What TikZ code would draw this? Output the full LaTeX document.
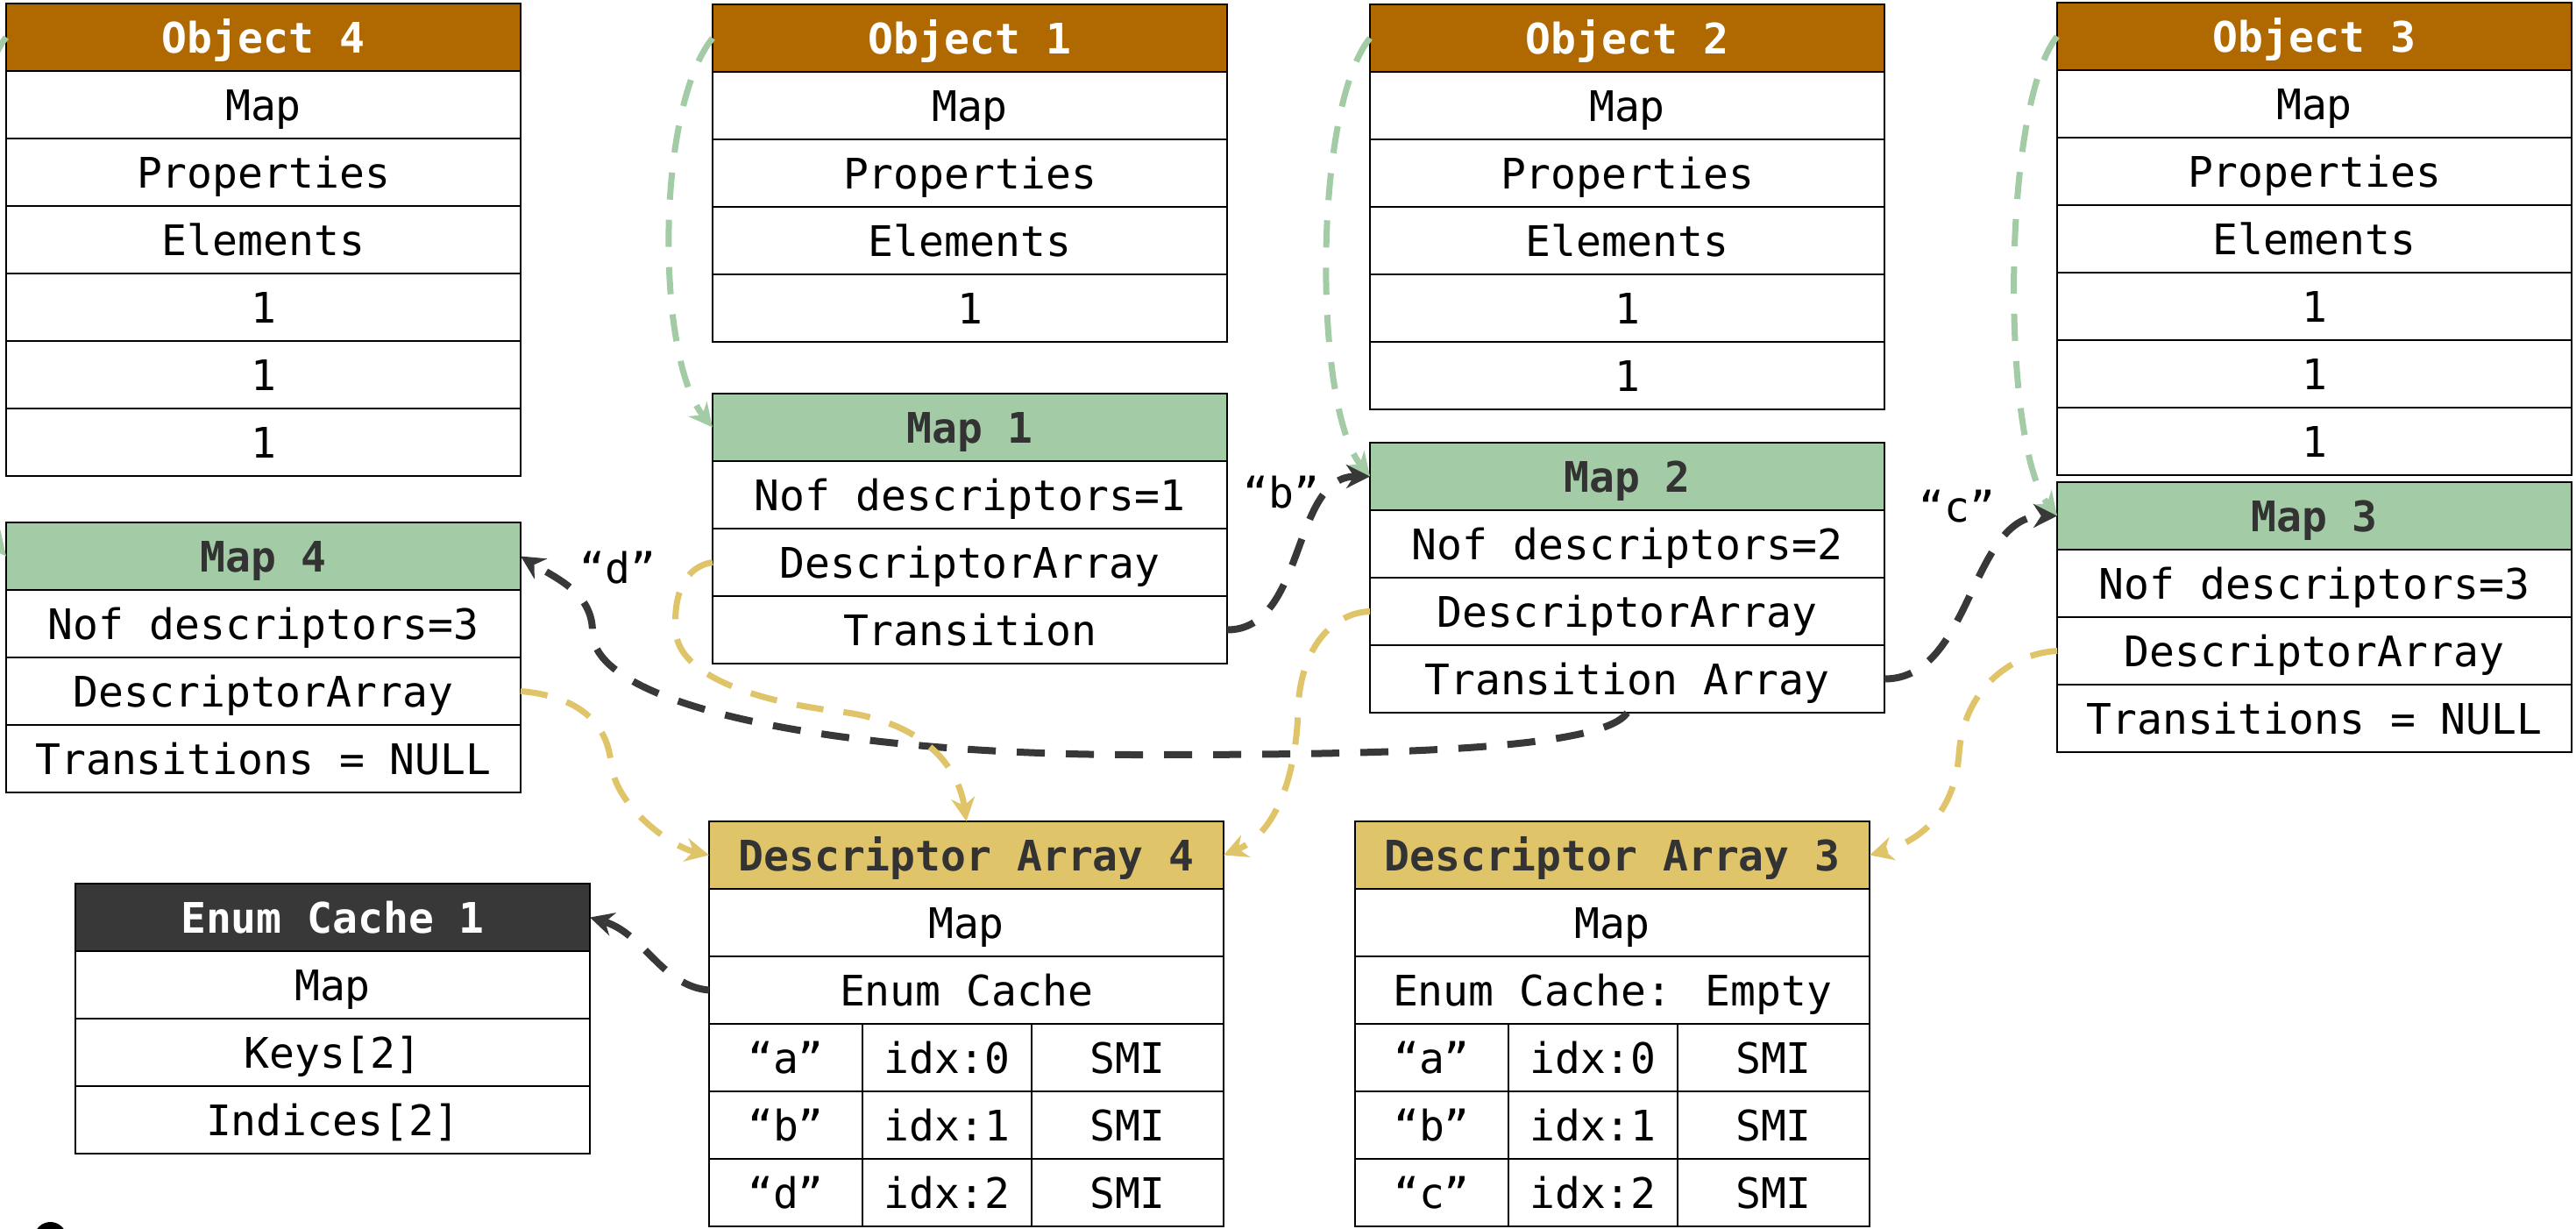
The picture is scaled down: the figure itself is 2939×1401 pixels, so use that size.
\documentclass[tikz,border=0pt]{standalone}
\usepackage{xcolor}
\usepackage{fontspec}
\setmainfont{DejaVu Sans Mono}
\usepackage{tikz}
\usetikzlibrary{arrows.meta,positioning}

\definecolor{objbrown}{HTML}{B06800}
\definecolor{mapgreen}{HTML}{A3CCA6}
\definecolor{descyellow}{HTML}{E0C46A}
\definecolor{enumgray}{HTML}{383838}
\definecolor{headtext}{HTML}{333333}

\begin{document}
\begin{tikzpicture}[x=1pt, y=-1pt,
		arrow/.style = {line width=7pt, dash pattern=on 31pt off 23pt, -{Stealth[length=27pt,width=27pt]}},
		greenarrow/.style = {arrow, draw=mapgreen},
		yellowarrow/.style = {arrow, draw=descyellow},
		darkarrow/.style = {arrow, line width=8pt, dash pattern=on 32pt off 24pt, draw=enumgray}]
		\tikzset{cell/.style={draw=black, line width=2.5pt, fill=white, minimum width=587pt, minimum height=77pt, inner sep=0pt, outer sep=0pt, text height=40pt, text depth=5pt, font=\fontsize{48}{56}\selectfont}}
		\tikzset{head/.style={cell, font=\fontsize{48}{56}\selectfont\bfseries}}
		\tikzset{objhead/.style={head, fill=objbrown, text=white}, maphead/.style={head, fill=mapgreen, text=headtext}}
		\tikzset{deschead/.style={head, fill=descyellow, text=headtext}, enumhead/.style={head, fill=enumgray, text=white}}
		\tikzset{lbl/.style={inner sep=0pt, font=\fontsize{48}{56}\selectfont}}

		\useasboundingbox (0,0) rectangle (2939,1401);

		% Objects
		\node[objhead, anchor=north west] (obj4) at (7,4) {Object 4};
		\node[cell, below=0pt of obj4] (obj4map) {Map};
		\node[cell, below=0pt of obj4map] (obj4prop) {Properties};
		\node[cell, below=0pt of obj4prop] (obj4elem) {Elements};
		\node[cell, below=0pt of obj4elem] (obj4e1) {1};
		\node[cell, below=0pt of obj4e1] (obj4e2) {1};
		\node[cell, below=0pt of obj4e2] (obj4e3) {1};

		\node[objhead, anchor=north west] (obj1) at (813,5) {Object 1};
		\node[cell, below=0pt of obj1] (obj1map) {Map};
		\node[cell, below=0pt of obj1map] (obj1prop) {Properties};
		\node[cell, below=0pt of obj1prop] (obj1elem) {Elements};
		\node[cell, below=0pt of obj1elem] (obj1e1) {1};

		\node[objhead, anchor=north west] (obj2) at (1563,5) {Object 2};
		\node[cell, below=0pt of obj2] (obj2map) {Map};
		\node[cell, below=0pt of obj2map] (obj2prop) {Properties};
		\node[cell, below=0pt of obj2prop] (obj2elem) {Elements};
		\node[cell, below=0pt of obj2elem] (obj2e1) {1};
		\node[cell, below=0pt of obj2e1] (obj2e2) {1};

		\node[objhead, anchor=north west] (obj3) at (2347,3) {Object 3};
		\node[cell, below=0pt of obj3] (obj3map) {Map};
		\node[cell, below=0pt of obj3map] (obj3prop) {Properties};
		\node[cell, below=0pt of obj3prop] (obj3elem) {Elements};
		\node[cell, below=0pt of obj3elem] (obj3e1) {1};
		\node[cell, below=0pt of obj3e1] (obj3e2) {1};
		\node[cell, below=0pt of obj3e2] (obj3e3) {1};


		% Maps
		\node[maphead, anchor=north west] (map4) at (7,596) {Map 4};
		\node[cell, below=0pt of map4] (map4nof) {Nof descriptors=3};
		\node[cell, below=0pt of map4nof] (map4da) {DescriptorArray};
		\node[cell, below=0pt of map4da] (map4tr) {Transitions = NULL};

		\node[maphead, anchor=north west] (map1) at (813,449) {Map 1};
		\node[cell, below=0pt of map1] (map1nof) {Nof descriptors=1};
		\node[cell, below=0pt of map1nof] (map1da) {DescriptorArray};
		\node[cell, below=0pt of map1da] (map1tr) {Transition};

		\node[maphead, anchor=north west] (map2) at (1563,505) {Map 2};
		\node[cell, below=0pt of map2] (map2nof) {Nof descriptors=2};
		\node[cell, below=0pt of map2nof] (map2da) {DescriptorArray};
		\node[cell, below=0pt of map2da] (map2tr) {Transition Array};

		\node[maphead, anchor=north west] (map3) at (2347,550) {Map 3};
		\node[cell, below=0pt of map3] (map3nof) {Nof descriptors=3};
		\node[cell, below=0pt of map3nof] (map3da) {DescriptorArray};
		\node[cell, below=0pt of map3da] (map3tr) {Transitions = NULL};


		% Descriptor arrays
		\node[deschead, anchor=north west] (desc4) at (809,937) {Descriptor Array 4};
		\node[cell, below=0pt of desc4] (desc4map) {Map};
		\node[cell, below=0pt of desc4map] (desc4ec) {Enum Cache};
		\node[cell, minimum width=175pt, anchor=north west] (desc4ka) at (desc4ec.south west) {“a”};
		\node[cell, minimum width=193pt, right=0pt of desc4ka] (desc4ia) {idx:0};
		\node[cell, minimum width=219pt, right=0pt of desc4ia] (desc4sa) {SMI};
		\node[cell, minimum width=175pt, below=0pt of desc4ka] (desc4kb) {“b”};
		\node[cell, minimum width=193pt, right=0pt of desc4kb] (desc4ib) {idx:1};
		\node[cell, minimum width=219pt, right=0pt of desc4ib] (desc4sb) {SMI};
		\node[cell, minimum width=175pt, below=0pt of desc4kb] (desc4kd) {“d”};
		\node[cell, minimum width=193pt, right=0pt of desc4kd] (desc4id) {idx:2};
		\node[cell, minimum width=219pt, right=0pt of desc4id] (desc4sd) {SMI};

		\node[deschead, anchor=north west] (desc3) at (1546,937) {Descriptor Array 3};
		\node[cell, below=0pt of desc3] (desc3map) {Map};
		\node[cell, below=0pt of desc3map] (desc3ec) {Enum Cache: Empty};
		\node[cell, minimum width=175pt, anchor=north west] (desc3ka) at (desc3ec.south west) {“a”};
		\node[cell, minimum width=193pt, right=0pt of desc3ka] (desc3ia) {idx:0};
		\node[cell, minimum width=219pt, right=0pt of desc3ia] (desc3sa) {SMI};
		\node[cell, minimum width=175pt, below=0pt of desc3ka] (desc3kb) {“b”};
		\node[cell, minimum width=193pt, right=0pt of desc3kb] (desc3ib) {idx:1};
		\node[cell, minimum width=219pt, right=0pt of desc3ib] (desc3sb) {SMI};
		\node[cell, minimum width=175pt, below=0pt of desc3kb] (desc3kc) {“c”};
		\node[cell, minimum width=193pt, right=0pt of desc3kc] (desc3ic) {idx:2};
		\node[cell, minimum width=219pt, right=0pt of desc3ic] (desc3sc) {SMI};


		% Enum cache
		\node[enumhead, anchor=north west] (enum1) at (86,1008) {Enum Cache 1};
		\node[cell, below=0pt of enum1] (enum1map) {Map};
		\node[cell, below=0pt of enum1map] (enum1keys) {Keys[2]};
		\node[cell, below=0pt of enum1keys] (enum1idx) {Indices[2]};

		\node[circle, fill=black, minimum size=37pt, inner sep=0pt] (dot) at (57.5,1412.5) {};


		% Labels
		\node[lbl] (lblb) at (1462,562) {“b”};
		\node[lbl] (lblc) at (2233,578) {“c”};
		\node[lbl] (lbld) at (705,648) {“d”};


		% Arrows
		\draw [greenarrow] (obj4.west) .. controls +(-65,80) and +(-65,-80) .. (map4.west);
		\draw [greenarrow] (obj1.west) .. controls +(-65,80) and +(-65,-80) .. (map1.west);
		\draw [greenarrow] (obj2.west) .. controls +(-65,80) and +(-65,-80) .. (map2.west);
		\draw [greenarrow] (obj3.west) .. controls +(-64,80) and +(-64,-80) .. (map3.west);

		\draw [darkarrow] (map1tr.east) .. controls +(90,0) and +(-90,0) .. (map2.west);
		\draw [darkarrow] (map2tr.east) .. controls +(100,0) and +(-100,0) .. (map3.west);
		\draw [darkarrow] (map2tr.south) .. controls +(-30,45) and +(250,0) .. (1300,861) .. controls +(-350,0) and +(0,84) .. (676,721) .. controls +(0,-45) and +(40,25) .. (map4.east);
		\draw [darkarrow] (desc4ec.west) .. controls +(-54,-4.5) and +(62,18.5) .. (enum1.east);

		\draw [yellowarrow] (map1da.west) .. controls +(-33,5) and +(-3,-40) .. (771,720) .. controls +(3,50) and +(-100,-12) .. (960,812) .. controls +(100,13) and +(-8,-57) .. (desc4.north);
		\draw [yellowarrow] (map4da.east) .. controls +(60,5) and +(-5,-50) .. (697,870) .. controls +(5,50) and +(-44,-10) .. (desc4.west);
		\draw [yellowarrow] (map2da.west) .. controls +(-43,1.5) and +(2,-70) .. (1481,810) .. controls +(-2,70) and +(62,-25.5) .. (desc4.east);
		\draw [yellowarrow] (map3da.west) .. controls +(-57,3.5) and +(5,-70) .. (2235,860) .. controls +(-5,70) and +(55,-15.5) .. (desc3.east);

	\end{tikzpicture}
\end{document}
